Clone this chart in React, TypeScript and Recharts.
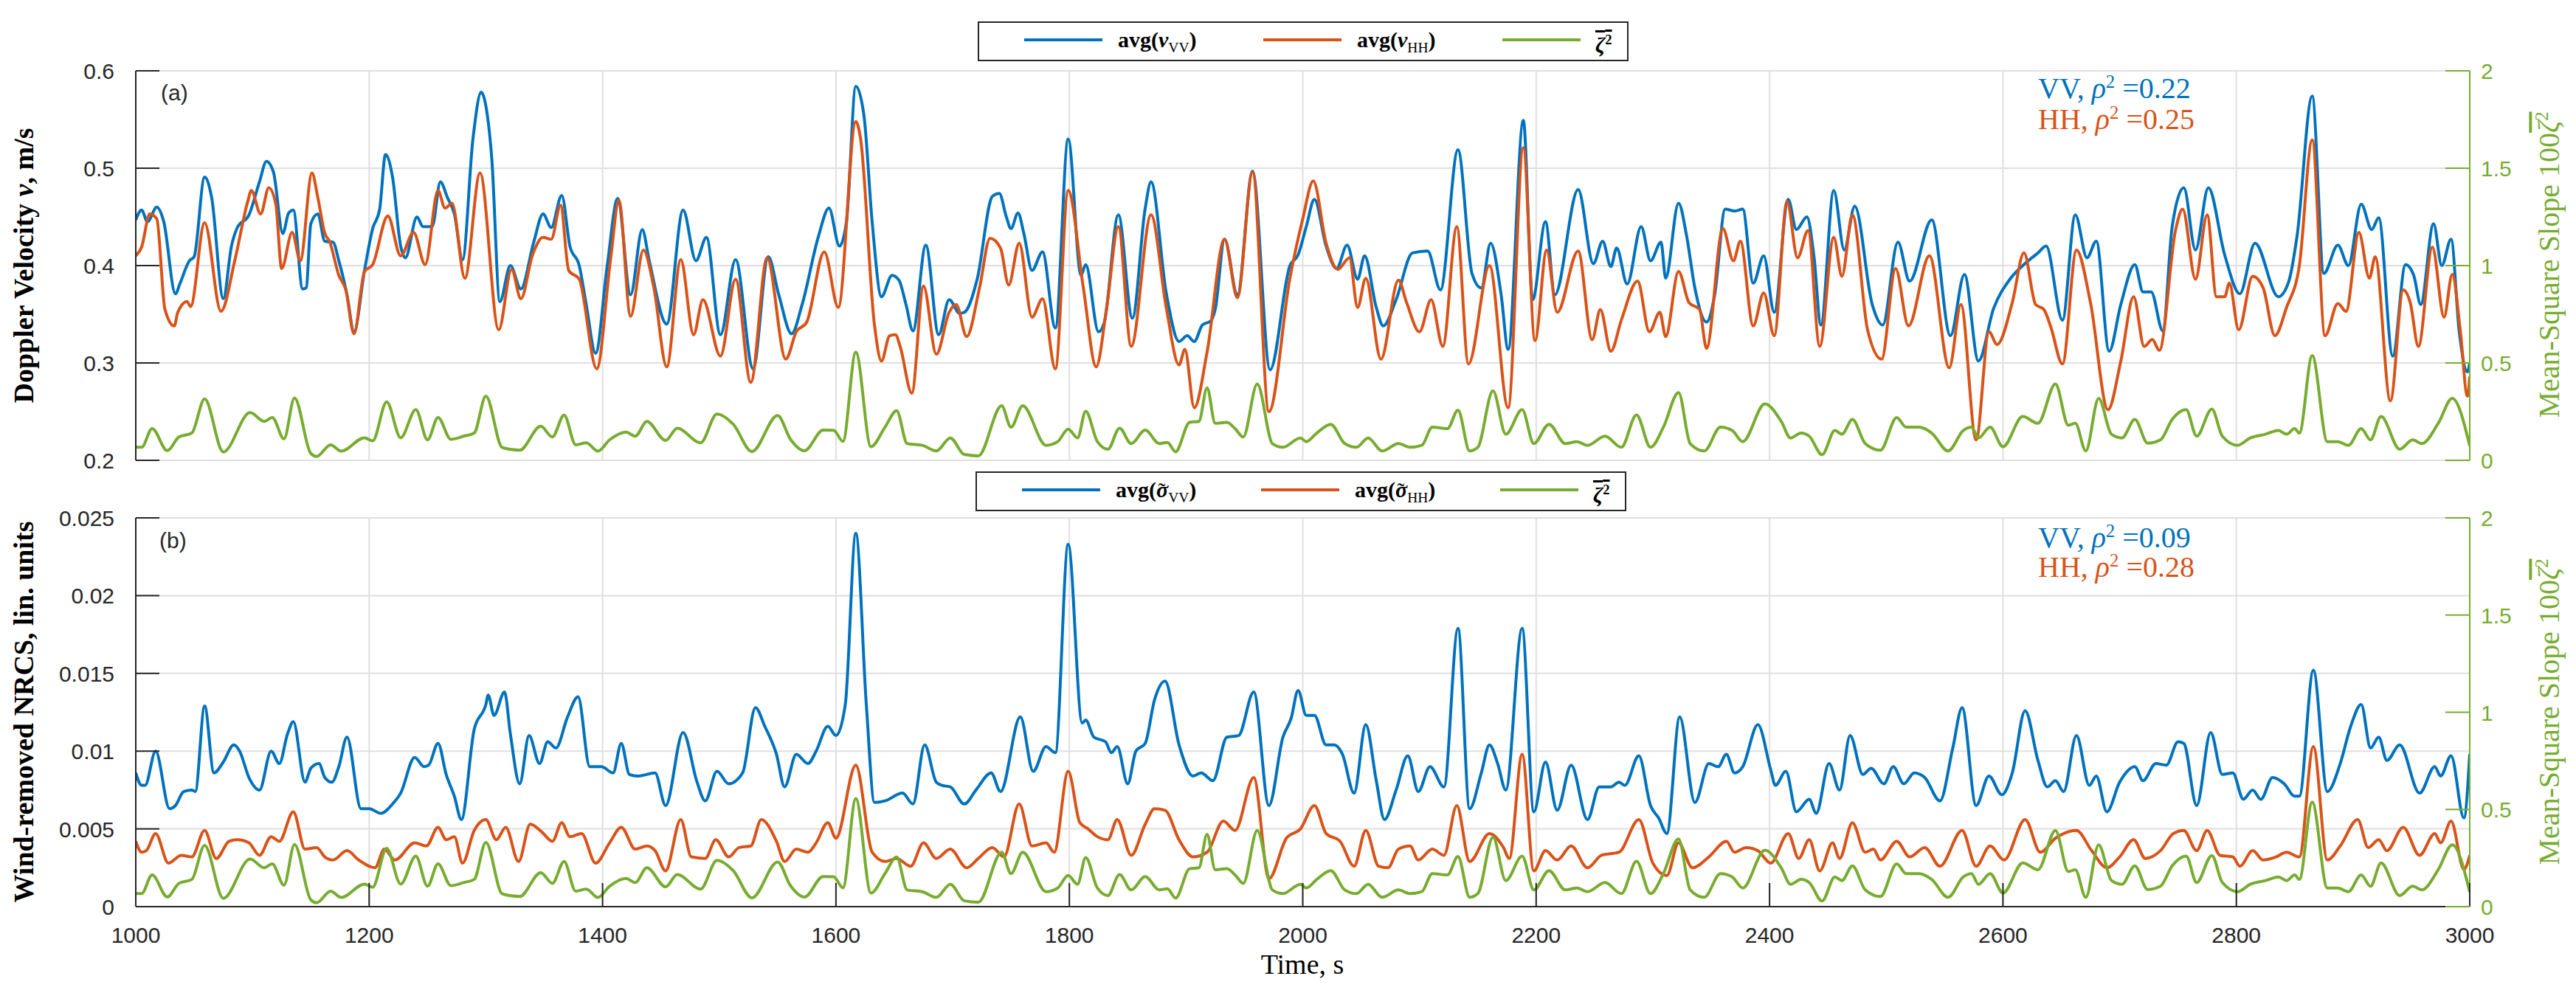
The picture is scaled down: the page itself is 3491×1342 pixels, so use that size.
import React from 'react';
import { LineChart, Line, XAxis, YAxis, CartesianGrid } from 'recharts';

const W = 3491;
const BLUE = '#0072BD';
const ORANGE = '#D95319';
const GREEN = '#77AC30';
const AX = '#262626';
const GRID = '#DFDFDF';
const SANS = '"Liberation Sans", Arial, Helvetica, sans-serif';
const SERIF = '"Liberation Serif", "Times New Roman", serif';

// ---------- ticks ----------
const xTicks = [1000, 1200, 1400, 1600, 1800, 2000, 2200, 2400, 2600, 2800, 3000];
const xTickLabels = ['1000', '1200', '1400', '1600', '1800', '2000', '2200', '2400', '2600', '2800', '3000'];
const vTicks = [0.2, 0.3, 0.4, 0.5, 0.6];
const vTickLabels = ['0.2', '0.3', '0.4', '0.5', '0.6'];
const sTicks = [0, 0.005, 0.01, 0.015, 0.02, 0.025];
const sTickLabels = ['0', '0.005', '0.01', '0.015', '0.02', '0.025'];
const zTicks = [0, 0.5, 1, 1.5, 2];
const zTickLabels = ['0', '0.5', '1', '1.5', '2'];

// ---------- series: [time s, value] ----------
const vVV: [number, number][] = [
  [1000,0.447],[1005,0.457],[1010,0.445],[1018,0.46],[1024,0.445],[1034,0.371],[1038,0.382],[1046,0.405],[1050,0.409],[1059,0.491],[1065,0.47],[1075,0.366],[1082,0.42],[1087,0.439],[1097,0.452],[1106,0.486],[1112,0.507],[1118,0.496],[1126,0.433],[1131,0.454],[1135,0.457],[1143,0.376],[1146,0.377],[1150,0.443],[1156,0.453],[1162,0.425],[1169,0.424],[1174,0.405],[1181,0.37],[1187,0.332],[1196,0.395],[1203,0.438],[1209,0.458],[1214,0.514],[1220,0.491],[1227,0.42],[1231,0.408],[1241,0.45],[1246,0.44],[1254,0.44],[1261,0.486],[1267,0.47],[1273,0.453],[1280,0.406],[1289,0.531],[1296,0.578],[1300,0.564],[1305,0.511],[1312,0.363],[1321,0.4],[1330,0.376],[1341,0.424],[1349,0.453],[1356,0.439],[1365,0.472],[1372,0.42],[1380,0.4],[1386,0.36],[1394,0.31],[1404,0.4],[1413,0.469],[1424,0.37],[1434,0.437],[1440,0.405],[1455,0.34],[1469,0.457],[1480,0.405],[1489,0.429],[1501,0.329],[1514,0.406],[1529,0.294],[1542,0.409],[1551,0.37],[1562,0.33],[1571,0.36],[1585,0.43],[1594,0.459],[1603,0.42],[1609,0.445],[1617,0.584],[1624,0.554],[1631,0.445],[1639,0.368],[1648,0.39],[1654,0.385],[1660,0.36],[1666,0.333],[1677,0.421],[1688,0.329],[1697,0.365],[1706,0.351],[1710,0.352],[1721,0.386],[1734,0.471],[1740,0.474],[1746,0.45],[1750,0.438],[1756,0.454],[1761,0.433],[1768,0.395],[1777,0.414],[1788,0.336],[1799,0.53],[1810,0.39],[1814,0.401],[1825,0.332],[1830,0.342],[1842,0.452],[1854,0.346],[1865,0.459],[1870,0.486],[1883,0.372],[1894,0.322],[1901,0.328],[1907,0.322],[1914,0.339],[1921,0.343],[1925,0.355],[1933,0.427],[1944,0.37],[1957,0.497],[1972,0.293],[1989,0.4],[1996,0.411],[2003,0.44],[2010,0.468],[2020,0.42],[2029,0.397],[2038,0.421],[2047,0.386],[2053,0.41],[2063,0.357],[2069,0.338],[2080,0.365],[2094,0.413],[2107,0.415],[2118,0.375],[2133,0.519],[2145,0.392],[2153,0.377],[2161,0.423],[2170,0.37],[2176,0.314],[2189,0.549],[2197,0.365],[2208,0.445],[2216,0.37],[2236,0.478],[2249,0.402],[2257,0.425],[2264,0.399],[2269,0.418],[2278,0.381],[2290,0.44],[2298,0.405],[2307,0.424],[2311,0.387],[2322,0.464],[2329,0.43],[2336,0.377],[2346,0.342],[2353,0.37],[2362,0.458],[2370,0.456],[2377,0.458],[2386,0.382],[2395,0.41],[2404,0.352],[2416,0.468],[2423,0.437],[2432,0.45],[2438,0.41],[2444,0.339],[2455,0.477],[2464,0.416],[2473,0.461],[2488,0.36],[2497,0.339],[2510,0.424],[2520,0.384],[2539,0.447],[2555,0.328],[2567,0.391],[2579,0.302],[2592,0.356],[2606,0.386],[2617,0.4],[2630,0.413],[2637,0.42],[2651,0.344],[2662,0.452],[2672,0.408],[2680,0.425],[2691,0.312],[2701,0.36],[2713,0.401],[2720,0.373],[2727,0.373],[2737,0.333],[2745,0.44],[2755,0.48],[2765,0.416],[2776,0.48],[2790,0.411],[2803,0.371],[2816,0.423],[2836,0.368],[2845,0.384],[2852,0.43],[2865,0.574],[2875,0.392],[2887,0.421],[2896,0.4],[2907,0.463],[2916,0.437],[2922,0.449],[2934,0.307],[2945,0.401],[2952,0.39],[2958,0.36],[2969,0.443],[2976,0.4],[2984,0.427],[2991,0.332],[2998,0.291],[3000,0.3],
];

const vHH: [number, number][] = [
  [1000,0.41],[1005,0.419],[1012,0.453],[1018,0.448],[1025,0.355],[1033,0.338],[1036,0.352],[1044,0.363],[1047,0.358],[1059,0.444],[1073,0.353],[1085,0.406],[1096,0.466],[1099,0.477],[1107,0.453],[1114,0.48],[1120,0.463],[1125,0.397],[1134,0.434],[1141,0.405],[1151,0.495],[1156,0.47],[1162,0.433],[1166,0.425],[1174,0.39],[1180,0.375],[1187,0.33],[1196,0.394],[1203,0.401],[1216,0.451],[1227,0.41],[1238,0.434],[1248,0.401],[1259,0.477],[1265,0.459],[1271,0.464],[1282,0.387],[1295,0.495],[1311,0.334],[1322,0.396],[1330,0.366],[1340,0.411],[1349,0.429],[1356,0.427],[1364,0.462],[1371,0.395],[1380,0.386],[1395,0.294],[1407,0.408],[1414,0.467],[1424,0.348],[1435,0.416],[1444,0.377],[1455,0.296],[1467,0.406],[1478,0.329],[1486,0.365],[1501,0.307],[1514,0.386],[1527,0.28],[1541,0.408],[1557,0.304],[1566,0.332],[1575,0.342],[1590,0.414],[1602,0.357],[1617,0.548],[1621,0.531],[1633,0.339],[1639,0.302],[1646,0.328],[1651,0.329],[1655,0.317],[1665,0.269],[1675,0.379],[1686,0.309],[1697,0.352],[1703,0.36],[1712,0.327],[1723,0.377],[1732,0.428],[1741,0.418],[1748,0.38],[1757,0.423],[1768,0.347],[1777,0.366],[1788,0.294],[1799,0.477],[1812,0.377],[1823,0.296],[1832,0.357],[1842,0.44],[1853,0.317],[1870,0.452],[1883,0.357],[1894,0.298],[1899,0.314],[1907,0.254],[1918,0.311],[1933,0.427],[1944,0.367],[1957,0.496],[1971,0.25],[1989,0.387],[2000,0.448],[2009,0.487],[2020,0.423],[2030,0.396],[2040,0.408],[2047,0.357],[2054,0.387],[2067,0.304],[2082,0.385],[2089,0.362],[2100,0.332],[2110,0.365],[2120,0.317],[2132,0.44],[2142,0.299],[2160,0.4],[2176,0.254],[2189,0.521],[2199,0.323],[2209,0.416],[2218,0.352],[2236,0.415],[2248,0.324],[2255,0.355],[2264,0.312],[2273,0.344],[2287,0.384],[2297,0.332],[2306,0.352],[2311,0.327],[2322,0.394],[2331,0.362],[2340,0.355],[2346,0.315],[2360,0.438],[2369,0.405],[2375,0.425],[2386,0.338],[2395,0.372],[2404,0.328],[2415,0.466],[2424,0.408],[2433,0.436],[2443,0.317],[2455,0.429],[2462,0.389],[2471,0.452],[2484,0.334],[2496,0.304],[2508,0.397],[2519,0.338],[2537,0.41],[2554,0.295],[2564,0.36],[2577,0.221],[2588,0.332],[2595,0.319],[2608,0.362],[2618,0.413],[2628,0.36],[2635,0.355],[2641,0.337],[2651,0.299],[2663,0.416],[2675,0.362],[2690,0.252],[2701,0.302],[2712,0.368],[2721,0.317],[2728,0.324],[2734,0.313],[2748,0.437],[2754,0.458],[2765,0.386],[2775,0.452],[2783,0.368],[2790,0.368],[2794,0.382],[2802,0.334],[2814,0.389],[2823,0.377],[2833,0.328],[2843,0.357],[2854,0.4],[2865,0.529],[2876,0.328],[2887,0.361],[2894,0.353],[2905,0.434],[2914,0.387],[2919,0.409],[2932,0.261],[2943,0.375],[2949,0.362],[2956,0.317],[2968,0.419],[2978,0.347],[2985,0.391],[2992,0.332],[2998,0.266],[3000,0.286],
];

const zeta: [number, number][] = [
  [1000,0.067],[1005,0.067],[1014,0.163],[1027,0.05],[1037,0.12],[1048,0.14],[1059,0.315],[1075,0.043],[1098,0.245],[1110,0.2],[1117,0.22],[1127,0.11],[1136,0.32],[1150,0.035],[1155,0.02],[1167,0.08],[1176,0.047],[1196,0.116],[1203,0.1],[1215,0.3],[1227,0.116],[1240,0.26],[1250,0.105],[1259,0.22],[1270,0.108],[1281,0.124],[1290,0.14],[1300,0.33],[1314,0.066],[1329,0.052],[1347,0.175],[1357,0.12],[1367,0.232],[1377,0.08],[1386,0.09],[1396,0.047],[1406,0.105],[1420,0.145],[1428,0.124],[1438,0.2],[1454,0.102],[1464,0.165],[1484,0.09],[1498,0.238],[1512,0.185],[1528,0.045],[1550,0.23],[1561,0.108],[1573,0.049],[1589,0.155],[1598,0.154],[1606,0.097],[1617,0.556],[1630,0.07],[1642,0.17],[1652,0.255],[1661,0.086],[1674,0.077],[1686,0.048],[1698,0.115],[1710,0.03],[1722,0.023],[1742,0.28],[1750,0.17],[1760,0.28],[1780,0.077],[1790,0.096],[1799,0.16],[1807,0.115],[1814,0.252],[1824,0.096],[1833,0.057],[1843,0.165],[1853,0.086],[1865,0.155],[1877,0.086],[1884,0.092],[1891,0.044],[1903,0.195],[1911,0.2],[1918,0.372],[1925,0.19],[1935,0.195],[1942,0.163],[1949,0.12],[1961,0.392],[1974,0.086],[1983,0.067],[1998,0.115],[2003,0.096],[2012,0.14],[2024,0.185],[2036,0.086],[2046,0.067],[2056,0.115],[2068,0.048],[2082,0.086],[2092,0.067],[2102,0.077],[2111,0.17],[2124,0.163],[2133,0.258],[2143,0.048],[2150,0.067],[2163,0.357],[2174,0.134],[2188,0.26],[2198,0.086],[2211,0.185],[2225,0.086],[2235,0.096],[2244,0.077],[2259,0.124],[2273,0.067],[2286,0.233],[2298,0.067],[2309,0.17],[2322,0.348],[2332,0.086],[2344,0.048],[2358,0.17],[2368,0.153],[2377,0.096],[2396,0.29],[2410,0.2],[2418,0.115],[2427,0.14],[2434,0.124],[2445,0.029],[2456,0.153],[2462,0.134],[2471,0.21],[2482,0.086],[2495,0.052],[2509,0.22],[2517,0.17],[2528,0.17],[2539,0.14],[2553,0.048],[2566,0.153],[2573,0.17],[2579,0.115],[2589,0.17],[2600,0.07],[2617,0.225],[2630,0.19],[2645,0.392],[2656,0.18],[2662,0.19],[2671,0.048],[2682,0.318],[2693,0.134],[2702,0.115],[2713,0.21],[2724,0.088],[2735,0.105],[2745,0.21],[2757,0.26],[2766,0.124],[2779,0.263],[2788,0.124],[2801,0.077],[2812,0.115],[2825,0.134],[2836,0.153],[2843,0.134],[2850,0.163],[2854,0.14],[2865,0.538],[2878,0.096],[2887,0.096],[2896,0.077],[2907,0.163],[2915,0.105],[2924,0.225],[2940,0.057],[2951,0.105],[2959,0.086],[2973,0.19],[2985,0.318],[3000,0.075],
];

const sVV: [number, number][] = [
  [1000,0.0086],[1005,0.0078],[1008,0.0078],[1017,0.01],[1029,0.0063],[1034,0.0065],[1041,0.0074],[1048,0.0075],[1051,0.0074],[1059,0.0129],[1067,0.0086],[1075,0.0093],[1084,0.0104],[1089,0.01],[1097,0.0083],[1106,0.0075],[1116,0.01],[1123,0.0092],[1130,0.0111],[1135,0.0119],[1145,0.008],[1150,0.0089],[1157,0.0092],[1162,0.0083],[1168,0.008],[1174,0.009],[1181,0.0109],[1193,0.0063],[1200,0.0063],[1210,0.006],[1220,0.0066],[1227,0.0073],[1239,0.0096],[1247,0.009],[1251,0.0091],[1259,0.0105],[1266,0.0085],[1273,0.0071],[1279,0.0056],[1290,0.0114],[1300,0.013],[1302,0.0136],[1307,0.0123],[1316,0.0138],[1321,0.0111],[1329,0.0079],[1337,0.011],[1346,0.0092],[1353,0.0106],[1360,0.0102],[1370,0.0122],[1379,0.0135],[1389,0.009],[1399,0.009],[1409,0.0086],[1416,0.0105],[1423,0.0085],[1430,0.0084],[1445,0.0086],[1454,0.0065],[1469,0.0112],[1481,0.008],[1488,0.0068],[1498,0.0087],[1508,0.0079],[1520,0.0086],[1531,0.0128],[1539,0.0116],[1549,0.0098],[1556,0.0077],[1566,0.0098],[1576,0.0092],[1583,0.01],[1593,0.0116],[1600,0.011],[1608,0.013],[1617,0.024],[1626,0.013],[1633,0.0067],[1642,0.0068],[1657,0.0073],[1666,0.0066],[1676,0.0104],[1686,0.008],[1691,0.0078],[1698,0.0077],[1710,0.0066],[1720,0.0075],[1733,0.0086],[1741,0.0074],[1758,0.0122],[1769,0.0087],[1780,0.0103],[1788,0.0099],[1799,0.0233],[1811,0.0118],[1814,0.012],[1821,0.0109],[1831,0.0106],[1836,0.0099],[1841,0.0103],[1850,0.0079],[1857,0.01],[1865,0.0105],[1873,0.0133],[1882,0.0145],[1894,0.0104],[1906,0.0084],[1913,0.0086],[1923,0.0081],[1935,0.0109],[1945,0.011],[1958,0.0138],[1971,0.0065],[1983,0.0109],[1990,0.0121],[1996,0.0139],[2003,0.0123],[2010,0.0123],[2020,0.0104],[2027,0.0104],[2034,0.0098],[2044,0.0073],[2054,0.0117],[2063,0.0081],[2070,0.0056],[2080,0.0075],[2090,0.0097],[2099,0.0074],[2109,0.009],[2121,0.0077],[2133,0.0179],[2143,0.0063],[2153,0.0086],[2160,0.0104],[2167,0.0092],[2174,0.0075],[2188,0.0179],[2198,0.0061],[2208,0.0093],[2218,0.0062],[2230,0.0091],[2244,0.0056],[2254,0.0077],[2264,0.0077],[2271,0.008],[2276,0.0078],[2288,0.0097],[2298,0.0065],[2305,0.0057],[2312,0.0047],[2323,0.0122],[2336,0.0067],[2348,0.0092],[2356,0.009],[2363,0.0098],[2370,0.0086],[2377,0.009],[2390,0.0117],[2401,0.0088],[2405,0.0078],[2414,0.0087],[2423,0.0061],[2434,0.0069],[2440,0.006],[2451,0.0092],[2460,0.0075],[2469,0.011],[2480,0.0085],[2487,0.0089],[2498,0.0079],[2506,0.009],[2515,0.0079],[2524,0.0086],[2533,0.0083],[2546,0.0068],[2557,0.0102],[2565,0.0128],[2577,0.0065],[2588,0.0084],[2599,0.0072],[2608,0.0086],[2619,0.0126],[2630,0.0094],[2638,0.0077],[2645,0.0081],[2652,0.0074],[2663,0.011],[2674,0.0078],[2680,0.0084],[2689,0.0061],[2700,0.008],[2713,0.009],[2720,0.0081],[2731,0.0092],[2740,0.0091],[2750,0.0106],[2755,0.0105],[2766,0.0065],[2778,0.0112],[2788,0.0085],[2797,0.0086],[2806,0.0069],[2814,0.0075],[2821,0.0069],[2831,0.0083],[2841,0.0079],[2850,0.0071],[2854,0.0071],[2866,0.0152],[2878,0.0074],[2889,0.0092],[2898,0.0116],[2907,0.013],[2915,0.0102],[2922,0.0109],[2929,0.0094],[2940,0.0104],[2957,0.0073],[2970,0.009],[2975,0.0084],[2984,0.0097],[2995,0.0057],[3000,0.0098],
];

const sHH: [number, number][] = [
  [1000,0.0042],[1005,0.0035],[1009,0.0036],[1017,0.0047],[1028,0.0028],[1039,0.0033],[1048,0.0032],[1059,0.0049],[1069,0.0031],[1080,0.0042],[1087,0.0043],[1097,0.0041],[1106,0.0033],[1116,0.0045],[1123,0.0042],[1135,0.0061],[1145,0.0037],[1155,0.0038],[1162,0.0032],[1169,0.003],[1181,0.0036],[1191,0.003],[1205,0.0025],[1213,0.0037],[1222,0.003],[1239,0.0041],[1249,0.0039],[1259,0.0051],[1266,0.0043],[1273,0.0045],[1280,0.0028],[1290,0.0049],[1300,0.0056],[1309,0.0043],[1317,0.0051],[1328,0.0029],[1338,0.0053],[1348,0.0048],[1357,0.0042],[1365,0.0054],[1372,0.0045],[1382,0.0047],[1394,0.0028],[1406,0.0041],[1416,0.0051],[1428,0.0037],[1438,0.0039],[1445,0.0036],[1454,0.0023],[1467,0.0056],[1476,0.0032],[1488,0.0031],[1497,0.0043],[1508,0.0032],[1517,0.0038],[1527,0.0039],[1536,0.0056],[1549,0.0042],[1556,0.0029],[1566,0.0037],[1576,0.0035],[1583,0.0041],[1593,0.0054],[1600,0.0044],[1617,0.0091],[1631,0.0035],[1642,0.0029],[1652,0.0031],[1664,0.0026],[1675,0.0041],[1686,0.0031],[1698,0.0037],[1712,0.0025],[1722,0.0031],[1734,0.0038],[1744,0.0032],[1757,0.0066],[1768,0.0039],[1780,0.0041],[1787,0.0035],[1799,0.0087],[1809,0.0054],[1816,0.005],[1824,0.0045],[1833,0.0043],[1841,0.0056],[1853,0.0033],[1865,0.0053],[1873,0.0063],[1882,0.0062],[1894,0.0043],[1906,0.0032],[1918,0.0035],[1932,0.0055],[1942,0.0049],[1958,0.0083],[1971,0.0018],[1986,0.0044],[1998,0.005],[2010,0.0065],[2020,0.0047],[2032,0.0042],[2044,0.0026],[2054,0.0049],[2065,0.0026],[2073,0.0025],[2082,0.0037],[2092,0.0039],[2099,0.003],[2111,0.0037],[2121,0.0033],[2132,0.0065],[2143,0.0029],[2160,0.0047],[2172,0.0038],[2177,0.0031],[2188,0.0098],[2198,0.0023],[2208,0.0036],[2218,0.003],[2230,0.0039],[2244,0.0025],[2256,0.0033],[2271,0.0035],[2288,0.0056],[2300,0.0028],[2312,0.002],[2322,0.0041],[2334,0.0025],[2348,0.0032],[2363,0.0042],[2370,0.0035],[2380,0.0038],[2390,0.0036],[2401,0.0028],[2416,0.0047],[2425,0.0031],[2434,0.0043],[2443,0.0023],[2454,0.0041],[2460,0.0031],[2471,0.0054],[2482,0.0035],[2489,0.0037],[2495,0.003],[2509,0.0042],[2520,0.0032],[2533,0.0038],[2546,0.0026],[2565,0.0049],[2577,0.0026],[2589,0.0039],[2601,0.003],[2619,0.0056],[2632,0.0035],[2645,0.0044],[2663,0.0049],[2676,0.0036],[2689,0.0025],[2700,0.0032],[2712,0.0043],[2722,0.0031],[2735,0.0036],[2746,0.0047],[2755,0.0049],[2766,0.0036],[2775,0.0049],[2786,0.0033],[2797,0.0032],[2803,0.0026],[2814,0.0036],[2823,0.003],[2834,0.0032],[2843,0.0035],[2854,0.0032],[2866,0.0103],[2878,0.003],[2889,0.0039],[2904,0.0056],[2913,0.0038],[2922,0.0043],[2929,0.0036],[2943,0.0051],[2957,0.0033],[2970,0.0047],[2975,0.0041],[2984,0.0055],[2995,0.0024],[3000,0.0033],
];

const toData = (pairs: [number, number][]) => pairs.map(([t, v]) => ({ t, v }));

const TICK_LEN = 32;

const labelFor = (ticks: number[], labels: string[], value: number) => {
  const i = ticks.findIndex((k) => Math.abs(k - value) < 1e-9);
  return i >= 0 ? labels[i] : String(value);
};

const makeLeftTick = (ticks: number[], labels: string[]) => (p: any) => (
  <g key={`l-${p.payload.value}`}>
    <line x1={p.x} y1={p.y} x2={p.x + TICK_LEN} y2={p.y} stroke={AX} strokeWidth={2} />
    <text x={p.x - 29} y={p.y + 11} textAnchor="end" fill={AX} style={{ fontFamily: SANS, fontSize: 30 }}>
      {labelFor(ticks, labels, p.payload.value)}
    </text>
  </g>
);

const makeRightTick = (ticks: number[], labels: string[]) => (p: any) => (
  <g key={`r-${p.payload.value}`}>
    <line x1={p.x} y1={p.y} x2={p.x - 33} y2={p.y} stroke={GREEN} strokeWidth={2} />
    <text x={p.x + 15} y={p.y + 11} textAnchor="start" fill={GREEN} style={{ fontFamily: SANS, fontSize: 30 }}>
      {labelFor(ticks, labels, p.payload.value)}
    </text>
  </g>
);

const makeBottomTick = (showLabel: boolean) => (p: any) => (
  <g key={`b-${p.payload.value}`}>
    <line x1={p.x} y1={p.y} x2={p.x} y2={p.y - TICK_LEN} stroke={AX} strokeWidth={2} />
    {showLabel ? (
      <text x={p.x} y={p.y + 49} textAnchor="middle" fill={AX} style={{ fontFamily: SANS, fontSize: 30 }}>
        {labelFor(xTicks, xTickLabels, p.payload.value)}
      </text>
    ) : null}
  </g>
);

const topTick = (p: any) => (
  <g key={`t-${p.payload.value}`}>
    <line x1={p.x} y1={p.y} x2={p.x} y2={p.y + TICK_LEN} stroke={AX} strokeWidth={2} />
  </g>
);

const ZetaBar = () => (
  <span style={{ textDecoration: 'overline' }}>
    <i>ζ</i>
    <sup style={{ fontSize: '0.62em' }}>2</sup>
  </span>
);

// sigma with a tilde accent stacked above it
const SigmaTilde = () => (
  <span style={{ position: 'relative', display: 'inline-block', lineHeight: '1em' }}>
    <i>σ</i>
    <span
      style={{
        position: 'absolute',
        left: '0.08em',
        top: '0.02em',
        lineHeight: '1em',
        fontWeight: 400,
        fontStyle: 'normal',
      }}
    >
      {'\u02DC'}
    </span>
  </span>
);

type LegendItem = { color: string; label: React.ReactNode };

const LegendBox = ({ left, top, items }: { left: number; top: number; items: LegendItem[] }) => {
  const lineX = [61, 385, 709];
  const textX = [188, 512, 835];
  return (
    <div
      style={{
        position: 'absolute',
        left,
        top,
        width: 882,
        height: 54,
        border: `2px solid ${AX}`,
        background: '#fff',
        boxSizing: 'border-box',
      }}
    >
      {items.map((it, i) => (
        <React.Fragment key={i}>
          <div style={{ position: 'absolute', left: lineX[i], top: 21, width: 106, height: 4, background: it.color }} />
          <div
            style={{
              position: 'absolute',
              left: textX[i],
              top: 0,
              height: 50,
              lineHeight: '46px',
              fontFamily: SERIF,
              fontSize: 30,
              fontWeight: 700,
              color: '#000',
              whiteSpace: 'nowrap',
            }}
          >
            {it.label}
          </div>
        </React.Fragment>
      ))}
    </div>
  );
};

const vertLabel = (cx: number, cy: number, content: React.ReactNode, color: string, bold: boolean) => (
  <div
    style={{
      position: 'absolute',
      left: cx,
      top: cy,
      transform: 'translate(-50%, -50%) rotate(-90deg)',
      whiteSpace: 'nowrap',
      fontFamily: SERIF,
      fontSize: bold ? 38 : 40,
      fontWeight: bold ? 700 : 400,
      lineHeight: '40px',
      color,
    }}
  >
    {content}
  </div>
);

const annot = (left: number, top: number, color: string, name: string, value: string) => (
  <div
    style={{
      position: 'absolute',
      left,
      top,
      fontFamily: SERIF,
      fontSize: 40,
      lineHeight: '40px',
      color,
      whiteSpace: 'nowrap',
    }}
  >
    {name}, <i>ρ</i>
    <sup style={{ fontSize: '0.62em', lineHeight: 0 }}>2</sup> ={value}
  </div>
);

const panelTag = (left: number, top: number, text: string) => (
  <div style={{ position: 'absolute', left, top, fontFamily: SANS, fontSize: 30, lineHeight: '30px', color: AX }}>{text}</div>
);

export default function App() {
  const lineCommon = { dot: false, activeDot: false, isAnimationActive: false, type: 'monotone' as const, strokeWidth: 4, strokeLinejoin: 'round' as const };
  const xCommon = {
    type: 'number' as const,
    dataKey: 't',
    domain: [1000, 3000],
    ticks: xTicks,
    interval: 0 as const,
    allowDataOverflow: true,
    tickSize: 0,
    tickMargin: 0,
    tickLine: false,
    axisLine: { stroke: AX, strokeWidth: 2 },
    height: 0,
  };
  const subStyle = { fontSize: '0.65em', fontWeight: 400 };
  return (
    <div style={{ position: 'absolute', left: 0, top: 0, width: W, height: 1342, background: '#fff', overflow: 'hidden' }}>
      {/* Panel (a) */}
      <div style={{ position: 'absolute', left: 0, top: 0 }}>
        <LineChart width={W} height={660} margin={{ top: 96, right: 0, bottom: 36, left: 0 }}>
          <CartesianGrid xAxisId="xb" yAxisId="yl" stroke={GRID} strokeWidth={2} />
          <XAxis xAxisId="xb" {...xCommon} tick={makeBottomTick(false)} />
          <XAxis xAxisId="xt" orientation="top" {...xCommon} tick={topTick} />
          <YAxis
            yAxisId="yl"
            type="number"
            domain={[0.2, 0.6]}
            ticks={vTicks}
            interval={0}
            allowDataOverflow
            width={184}
            tickSize={0}
            tickMargin={0}
            tickLine={false}
            axisLine={{ stroke: AX, strokeWidth: 2 }}
            tick={makeLeftTick(vTicks, vTickLabels)}
          />
          <YAxis
            yAxisId="yr"
            orientation="right"
            type="number"
            domain={[0, 2]}
            ticks={zTicks}
            interval={0}
            allowDataOverflow
            width={144}
            tickSize={0}
            tickMargin={0}
            tickLine={false}
            axisLine={{ stroke: GREEN, strokeWidth: 2 }}
            tick={makeRightTick(zTicks, zTickLabels)}
          />
          <Line xAxisId="xb" yAxisId="yl" data={toData(vVV)} dataKey="v" stroke={BLUE} {...lineCommon} />
          <Line xAxisId="xb" yAxisId="yl" data={toData(vHH)} dataKey="v" stroke={ORANGE} {...lineCommon} />
          <Line xAxisId="xb" yAxisId="yr" data={toData(zeta)} dataKey="v" stroke={GREEN} {...lineCommon} />
        </LineChart>
      </div>

      {/* Panel (b) */}
      <div style={{ position: 'absolute', left: 0, top: 640 }}>
        <LineChart width={W} height={702} margin={{ top: 62, right: 0, bottom: 0, left: 0 }}>
          <CartesianGrid xAxisId="xb" yAxisId="yl" stroke={GRID} strokeWidth={2} />
          <XAxis xAxisId="xb" {...xCommon} height={113} tick={makeBottomTick(true)} />
          <XAxis xAxisId="xt" orientation="top" {...xCommon} tick={topTick} />
          <YAxis
            yAxisId="yl"
            type="number"
            domain={[0, 0.025]}
            ticks={sTicks}
            interval={0}
            allowDataOverflow
            width={184}
            tickSize={0}
            tickMargin={0}
            tickLine={false}
            axisLine={{ stroke: AX, strokeWidth: 2 }}
            tick={makeLeftTick(sTicks, sTickLabels)}
          />
          <YAxis
            yAxisId="yr"
            orientation="right"
            type="number"
            domain={[0, 2]}
            ticks={zTicks}
            interval={0}
            allowDataOverflow
            width={144}
            tickSize={0}
            tickMargin={0}
            tickLine={false}
            axisLine={{ stroke: GREEN, strokeWidth: 2 }}
            tick={makeRightTick(zTicks, zTickLabels)}
          />
          <Line xAxisId="xb" yAxisId="yl" data={toData(sVV)} dataKey="v" stroke={BLUE} {...lineCommon} />
          <Line xAxisId="xb" yAxisId="yl" data={toData(sHH)} dataKey="v" stroke={ORANGE} {...lineCommon} />
          <Line xAxisId="xb" yAxisId="yr" data={toData(zeta)} dataKey="v" stroke={GREEN} {...lineCommon} />
        </LineChart>
      </div>

      {/* Legends */}
      <LegendBox
        left={1325}
        top={29}
        items={[
          { color: BLUE, label: (<span>avg(<i>v</i><sub style={subStyle}>VV</sub>)</span>) },
          { color: ORANGE, label: (<span>avg(<i>v</i><sub style={subStyle}>HH</sub>)</span>) },
          { color: GREEN, label: <ZetaBar /> },
        ]}
      />
      <LegendBox
        left={1322}
        top={639}
        items={[
          { color: BLUE, label: (<span>avg(<SigmaTilde /><sub style={subStyle}>VV</sub>)</span>) },
          { color: ORANGE, label: (<span>avg(<SigmaTilde /><sub style={subStyle}>HH</sub>)</span>) },
          { color: GREEN, label: <ZetaBar /> },
        ]}
      />

      {/* Panel tags */}
      {panelTag(218, 111, '(a)')}
      {panelTag(216, 718, '(b)')}

      {/* Correlation annotations */}
      {annot(2762, 100, BLUE, 'VV', '0.22')}
      {annot(2762, 142, ORANGE, 'HH', '0.25')}
      {annot(2762, 709, BLUE, 'VV', '0.09')}
      {annot(2762, 749, ORANGE, 'HH', '0.28')}

      {/* Axis labels */}
      {vertLabel(32, 360, (<span>Doppler Velocity <i>v</i>, m/s</span>), '#000', true)}
      {vertLabel(32, 965, 'Wind-removed NRCS, lin. units', '#000', true)}
      {vertLabel(3450, 359, (<span>Mean-Square Slope 100<ZetaBar /></span>), GREEN, false)}
      {vertLabel(3450, 965, (<span>Mean-Square Slope 100<ZetaBar /></span>), GREEN, false)}
      <div
        style={{
          position: 'absolute',
          left: 1765,
          top: 1288,
          transform: 'translateX(-50%)',
          fontFamily: SERIF,
          fontSize: 38,
          lineHeight: '38px',
          color: '#000',
          whiteSpace: 'nowrap',
        }}
      >
        Time, s
      </div>
    </div>
  );
}
